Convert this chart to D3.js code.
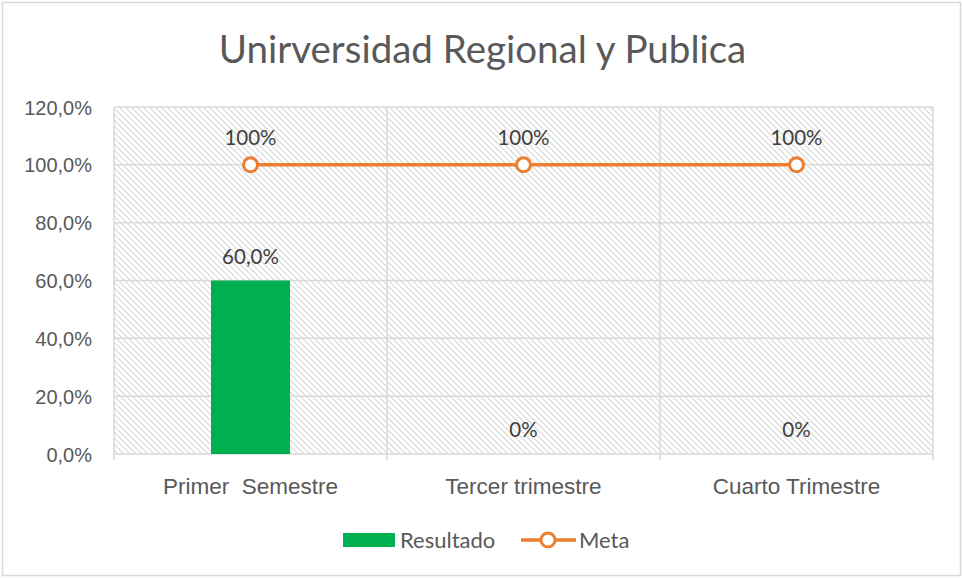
<!DOCTYPE html>
<html>
<head>
<meta charset="utf-8">
<title>Unirversidad Regional y Publica</title>
<script src="https://d3js.org/d3.v7.min.js"></script>
<style>
  body { margin: 0; background: #fff; }
  svg { font-family: Lato, "Open Sans", sans-serif; }
  text { white-space: pre; }
</style>
</head>
<body>
<div id="chart"></div>
<script>
// data
var categories = ["Primer  Semestre", "Tercer trimestre", "Cuarto Trimestre"];
var resultado = [60, 0, 0];
var meta = [100, 100, 100];
var resultadoLabels = ["60,0%", "0%", "0%"];
var metaLabels = ["100%", "100%", "100%"];
var yTicks = [0, 20, 40, 60, 80, 100, 120];

var W = 963, H = 578;
var plot = {left: 114, right: 933, top: 107, bottom: 454};
var grey = "#595959";

var svg = d3.select("#chart").append("svg")
  .attr("width", W).attr("height", H);

// hatch pattern
var defs = svg.append("defs");
var pat = defs.append("pattern")
  .attr("id", "hatch")
  .attr("patternUnits", "userSpaceOnUse")
  .attr("width", 6).attr("height", 6);
pat.append("rect").attr("width", 6).attr("height", 6).attr("fill", "#fff");
pat.append("path")
  .attr("d", "M-1,-1 L7,7 M-1,5 L1,7 M5,-1 L7,1")
  .attr("stroke", "#d8d8d8").attr("stroke-width", 1.2);

// outer border
svg.append("rect")
  .attr("x", 2.5).attr("y", 2.5)
  .attr("width", W - 5).attr("height", H - 5)
  .attr("fill", "#fff").attr("stroke", "#d9d9d9").attr("stroke-width", 1.5);

// title
svg.append("text")
  .attr("x", W / 2 + 1).attr("y", 63)
  .attr("text-anchor", "middle")
  .attr("fill", grey)
  .style("font-size", "38.5px")
  .text("Unirversidad Regional y Publica");

var x = d3.scaleBand()
  .domain(categories)
  .range([plot.left, plot.right]);

var y = d3.scaleLinear()
  .domain([0, 120])
  .range([plot.bottom, plot.top]);

// plot background
svg.append("rect")
  .attr("x", plot.left).attr("y", plot.top)
  .attr("width", plot.right - plot.left).attr("height", plot.bottom - plot.top)
  .attr("fill", "url(#hatch)");

// horizontal grid
svg.append("g")
  .selectAll("line")
  .data(yTicks)
  .join("line")
  .attr("x1", plot.left).attr("x2", plot.right)
  .attr("y1", d => y(d)).attr("y2", d => y(d))
  .attr("stroke", "#d9d9d9").attr("stroke-width", 1.5);

// vertical category separators
var seps = categories.map(c => x(c)).concat([plot.right]);
svg.append("g")
  .selectAll("line")
  .data(seps)
  .join("line")
  .attr("x1", d => d).attr("x2", d => d)
  .attr("y1", plot.top).attr("y2", plot.bottom + 6)
  .attr("stroke", "#d9d9d9").attr("stroke-width", 1.5);

// y axis labels
var yAxis = d3.axisLeft(y).tickValues(yTicks)
  .tickFormat(d => d.toFixed(1).replace(".", ",") + "%")
  .tickSize(0).tickPadding(22);
var yg = svg.append("g")
  .attr("transform", `translate(${plot.left},0)`)
  .call(yAxis);
yg.select(".domain").remove();
yg.selectAll("text").attr("fill", grey).style("font-size", "20px").attr("dy", "0.35em");

// x axis labels
var xAxis = d3.axisBottom(x).tickSize(0).tickPadding(24);
var xg = svg.append("g")
  .attr("transform", `translate(0,${plot.bottom})`)
  .call(xAxis);
xg.select(".domain").remove();
xg.selectAll("text").attr("fill", grey).style("font-size", "22.5px");

// bars
var barW = 79;
svg.append("g")
  .selectAll("rect")
  .data(resultado)
  .join("rect")
  .attr("x", (d, i) => x(categories[i]) + x.bandwidth() / 2 - barW / 2)
  .attr("y", d => y(d))
  .attr("width", barW)
  .attr("height", d => y(0) - y(d))
  .attr("fill", "#00b050");

svg.append("g")
  .selectAll("text")
  .data(resultado)
  .join("text")
  .attr("x", (d, i) => x(categories[i]) + x.bandwidth() / 2)
  .attr("y", d => y(d) - 17)
  .attr("text-anchor", "middle")
  .attr("fill", "#404040")
  .style("font-size", "20.5px")
  .text((d, i) => resultadoLabels[i]);

// meta line
var line = d3.line()
  .x((d, i) => x(categories[i]) + x.bandwidth() / 2)
  .y(d => y(d));

svg.append("path")
  .datum(meta)
  .attr("d", line)
  .attr("fill", "none")
  .attr("stroke", "#ed7d31")
  .attr("stroke-width", 3.5);

svg.append("g")
  .selectAll("circle")
  .data(meta)
  .join("circle")
  .attr("cx", (d, i) => x(categories[i]) + x.bandwidth() / 2)
  .attr("cy", d => y(d))
  .attr("r", 7)
  .attr("fill", "#fff")
  .attr("stroke", "#ed7d31")
  .attr("stroke-width", 3);

svg.append("g")
  .selectAll("text")
  .data(meta)
  .join("text")
  .attr("x", (d, i) => x(categories[i]) + x.bandwidth() / 2)
  .attr("y", d => y(d) - 20)
  .attr("text-anchor", "middle")
  .attr("fill", "#404040")
  .style("font-size", "20.5px")
  .text((d, i) => metaLabels[i]);

// legend
var lg = svg.append("g");
lg.append("rect")
  .attr("x", 343).attr("y", 533).attr("width", 52).attr("height", 14)
  .attr("fill", "#00b050");
lg.append("text")
  .attr("x", 400).attr("y", 540).attr("dy", "0.35em")
  .attr("fill", grey).style("font-size", "22px")
  .text("Resultado");
lg.append("line")
  .attr("x1", 521).attr("x2", 576).attr("y1", 540).attr("y2", 540)
  .attr("stroke", "#ed7d31").attr("stroke-width", 3.5);
lg.append("circle")
  .attr("cx", 548).attr("cy", 540).attr("r", 7)
  .attr("fill", "#fff").attr("stroke", "#ed7d31").attr("stroke-width", 3);
lg.append("text")
  .attr("x", 579).attr("y", 540).attr("dy", "0.35em")
  .attr("fill", grey).style("font-size", "22px")
  .text("Meta");
</script>
</body>
</html>
